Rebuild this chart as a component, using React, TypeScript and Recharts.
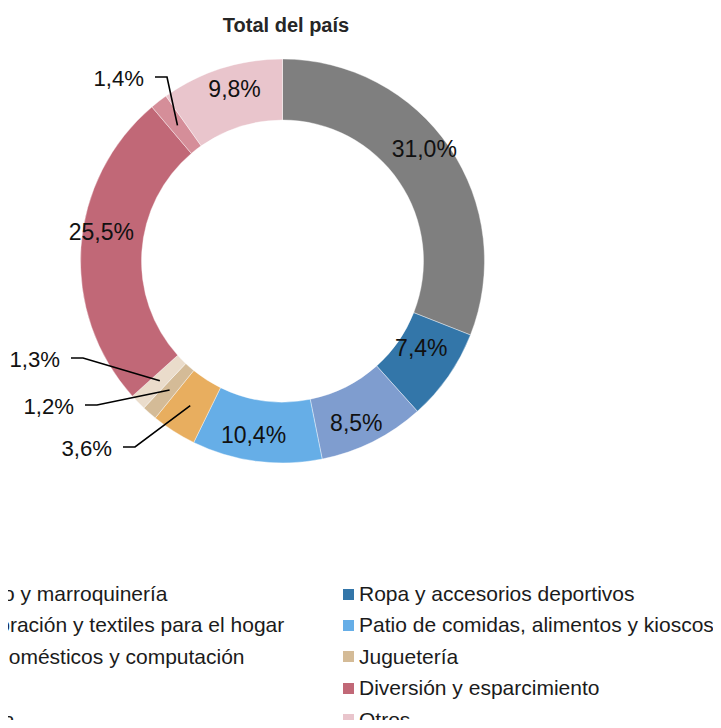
import { Cell, Pie, PieChart } from "recharts"

const categories = [
  "Indumentaria, calzado y marroquinería",
  "Ropa y accesorios deportivos",
  "Amoblamientos, decoración y textiles para el hogar",
  "Patio de comidas, alimentos y kioscos",
  "Electrónicos, electrodomésticos y computación",
  "Juguetería",
  "Librería y papelería",
  "Diversión y esparcimiento",
  "Perfumería y farmacia",
  "Otros",
]
const shares = [31.0, 7.4, 8.5, 10.4, 3.6, 1.2, 1.3, 25.5, 1.4, 9.8]
const colors = [
  "#7f7f7f",
  "#3376a9",
  "#7f9dcf",
  "#66aee7",
  "#e8ae5f",
  "#d4bb97",
  "#eadccb",
  "#c16877",
  "#d58e99",
  "#e9c5cc",
]

const data = categories.map((name, i) => ({ name, value: shares[i], color: colors[i] }))

// label placement tweaks (inside: offset from mid-ring point; outside: elbow of leader line from pie centre)
const inside: Record<number, [number, number]> = {
  0: [0, -15],
  1: [-2, -11],
  2: [-3, 9],
  3: [-7, 4],
  7: [-10, -17],
  9: [4, -9],
}
const outside: Record<number, [number, number]> = {
  4: [-147.5, 186],
  5: [-185.5, 144],
  6: [-199.5, 97],
  8: [-115.5, -184],
}

const CX = 282.5
const CY = 261
const RAD = Math.PI / 180
const font = "'Liberation Sans', Arial, sans-serif"
const fmt = (v: number) => v.toFixed(1).replace(".", ",") + "%"

function renderLabel(props: any) {
  const { index, midAngle, innerRadius, outerRadius, cx, cy, value } = props
  const r = (innerRadius + outerRadius) / 2
  const mx = cx + r * Math.cos(-midAngle * RAD)
  const my = cy + r * Math.sin(-midAngle * RAD)
  if (outside[index]) {
    const [dx, dy] = outside[index]
    const ex = cx + dx
    const ey = cy + dy
    return (
      <g key={"l" + index}>
        <polyline points={`${mx},${my} ${ex},${ey} ${ex - 12},${ey}`} fill="none" stroke="#000" strokeWidth={1.6} />
        <text x={ex - 23} y={ey + 1} textAnchor="end" dominantBaseline="central" fontSize={22.2} fill="#111" fontFamily={font}>
          {fmt(value)}
        </text>
      </g>
    )
  }
  const [dx, dy] = inside[index] || [0, 0]
  return (
    <text key={"l" + index} x={mx + dx} y={my + dy} textAnchor="middle" dominantBaseline="central" fontSize={23} fill="#111" fontFamily={font}>
      {fmt(value)}
    </text>
  )
}

export default function App() {
  return (
    <div style={{ position: "relative", width: 721, height: 728, margin: -8, overflow: "hidden", background: "#fff", fontFamily: font }}>
      <div style={{ position: "absolute", left: 0, width: 572, top: 14, textAlign: "center", fontWeight: "bold", fontSize: 20, color: "#262626" }}>
        Total del país
      </div>
      <div style={{ position: "absolute", left: 0, top: 0 }}>
        <PieChart width={721} height={540} margin={{ top: 0, right: 0, bottom: 0, left: 0 }}>
          <Pie
            data={data}
            dataKey="value"
            nameKey="name"
            cx={CX}
            cy={CY}
            innerRadius={141}
            outerRadius={202}
            startAngle={90}
            endAngle={-270}
            stroke="#ffffff"
            strokeWidth={0.4}
            label={renderLabel}
            labelLine={false}
            isAnimationActive={false}
          >
            {data.map((d) => (
              <Cell key={d.name} fill={d.color} />
            ))}
          </Pie>
        </PieChart>
      </div>
      {data.map((d, i) => {
        const col = i % 2
        const row = Math.floor(i / 2)
        const left = col === 0 ? -208 : 343
        const top = 594 + row * 31.4 - 12
        return (
          <div key={d.name} style={{ position: "absolute", left, top, height: 24, display: "flex", alignItems: "center", whiteSpace: "nowrap", fontSize: 21, color: "#1b1b1b" }}>
            <span style={{ display: "inline-block", width: 11, height: 11, background: d.color, marginRight: 5 }} />
            {d.name}
          </div>
        )
      })}
    </div>
  )
}
